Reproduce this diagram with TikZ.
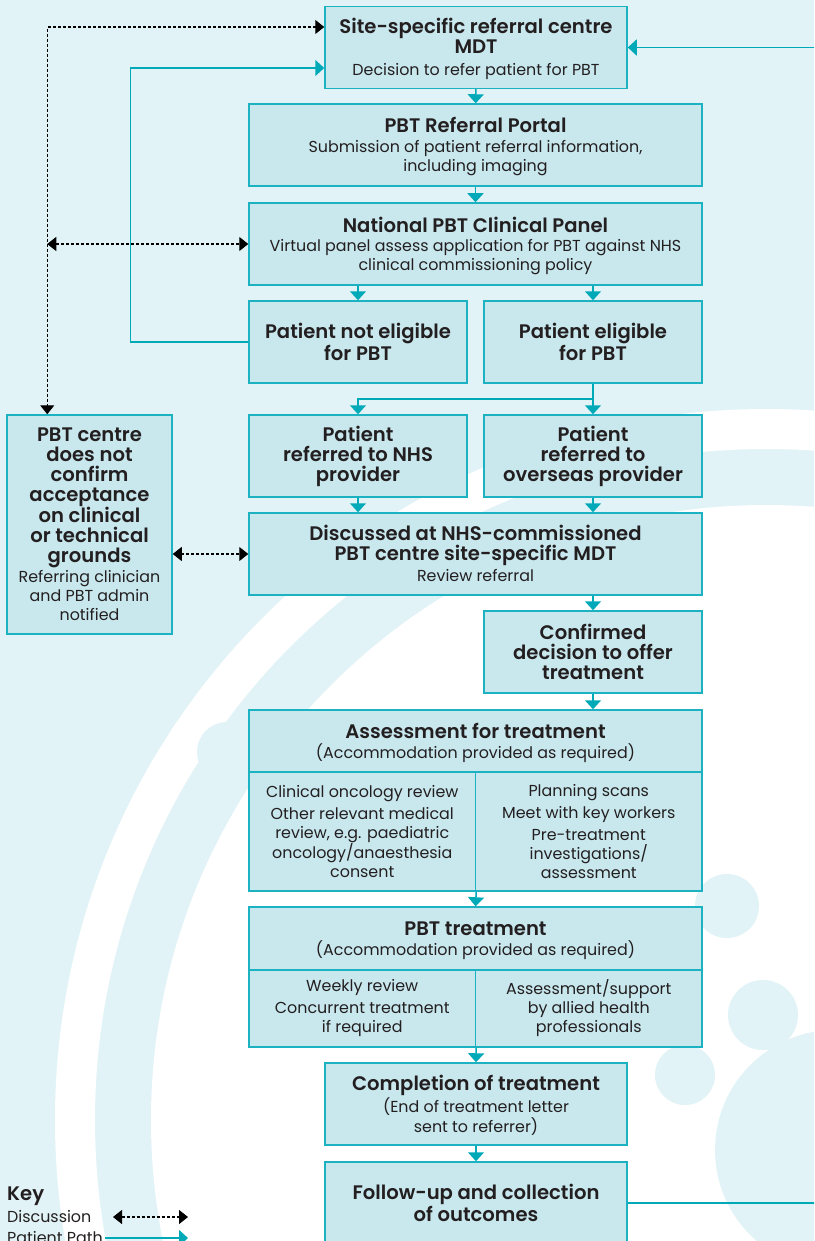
\documentclass[tikz,border=0pt]{standalone}
\usepackage{fontspec}
\IfFontExistsTF{Poppins SemiBold}{\setmainfont{Poppins}[BoldFont={Poppins SemiBold}]}{\setmainfont{Poppins}}
\usetikzlibrary{arrows.meta,calc}
\definecolor{bgpale}{HTML}{E1F3F6}
\definecolor{boxfill}{HTML}{C8E8EE}
\definecolor{tealline}{HTML}{1CB2C2}
\definecolor{tealarrow}{HTML}{00A9B8}
\definecolor{textdark}{HTML}{231F20}
\newcommand{\ttl}{\fontsize{19.6}{20}\selectfont\bfseries}
\newcommand{\sbt}{\fontsize{15.9}{19}\selectfont\mdseries}
\newcommand{\subtxt}[1]{{\sbt\raisebox{0pt}[\height][\dimexpr\depth-5pt\relax]{\begin{tabular}[t]{@{}c@{}}#1\end{tabular}}}}

\begin{document}
\begin{tikzpicture}[x=1pt, y=-1pt, text=textdark,
		box/.style={draw=tealline, fill=boxfill, line width=1.5pt, inner sep=0pt, align=center},
		tbox/.style={box, font=\ttl, execute at begin node={\rule{0pt}{23pt}}},
		widebox/.style={tbox, minimum width=453pt, minimum height=82pt},
		midbox/.style={tbox, minimum width=302pt, minimum height=82pt},
		halfbox/.style={tbox, minimum width=218pt, minimum height=82pt},
		colbox/.style={box, minimum width=226.5pt, font=\sbt},
		path/.style={draw=tealarrow, line width=1.5pt, -{Triangle[width=16pt,length=9pt]}},
		talk/.style={draw=black, line width=1.2pt, dash pattern=on 3pt off 2pt, {Triangle[width=14pt,length=9pt]}-{Triangle[width=14pt,length=9pt]}}]
		\useasboundingbox (0,0) rectangle (814,1241);
		\clip (0,0) rectangle (814,1241);
		\fill[bgpale] (0,0) rectangle (814,1241);
		\draw[white, line width=40pt] (766,1120) circle[radius=691pt];
		\fill[white] (766,1120) circle[radius=615pt];
		\fill[bgpale] (227,752) circle[radius=30pt];
		\fill[bgpale] (727,906) circle[radius=32pt];
		\fill[bgpale] (763,1015) circle[radius=35pt];
		\fill[bgpale] (685,1075) circle[radius=30pt];
		\fill[bgpale] (835,1150) circle[radius=120pt];
		\node[midbox] (mdt) at (476,47.5) {Site-specific referral centre\\MDT\\[2pt]\subtxt{Decision to refer patient for PBT}};
		\node[widebox] (portal) at (475.5,145) {PBT Referral Portal\\[0pt]\subtxt{Submission of patient referral information,\\including imaging}};
		\node[widebox] (panel) at (475.5,244) {National PBT Clinical Panel\\[-1pt]\subtxt{Virtual panel assess application for PBT against NHS\\clinical commissioning policy}};
		\node[halfbox] (noteligible) at (358,342) {Patient not eligible\\for PBT};
		\node[halfbox] (eligible) at (593,342) {Patient eligible\\for PBT};
		\node[halfbox] (nhs) at (358,456) {Patient\\referred to NHS\\provider};
		\node[halfbox] (overseas) at (593,456) {Patient\\referred to\\overseas provider};
		\node[widebox] (discussed) at (475.5,554) {Discussed at NHS-commissioned\\PBT centre site-specific MDT\\[1pt]\subtxt{Review referral}};
		\node[halfbox] (confirmed) at (593,652) {Confirmed\\decision to offer\\treatment};
		\node[tbox, minimum width=165pt, minimum height=219pt] (notconfirm) at (89.5,524.5) {PBT centre\\does not\\confirm\\acceptance\\on clinical\\or technical\\grounds\\[0pt]\subtxt{Referring clinician\\and PBT admin\\notified}};
		\node[widebox, minimum height=62pt] (assess) at (475.5,741) {Assessment for treatment\\[0pt]\subtxt{(Accommodation provided as required)}};
		\node[colbox, minimum height=119pt] (assessl) at (362.25,831.5) {Clinical oncology review\\[3pt]Other relevant medical\\review, e.g. paediatric\\oncology/anaesthesia\\consent};
		\node[colbox, minimum height=119pt] (assessr) at (588.75,831.5) {Planning scans\\[3pt]Meet with key workers\\[3pt]Pre-treatment\\investigations/\\assessment};
		\node[widebox, minimum height=63pt] (treat) at (475.5,938.5) {PBT treatment\\[0pt]\subtxt{(Accommodation provided as required)}};
		\node[colbox, minimum height=77pt] (treatl) at (362.25,1008.5) {Weekly review\\[3pt]Concurrent treatment\\if required};
		\node[colbox, minimum height=77pt] (treatr) at (588.75,1008.5) {Assessment/support\\by allied health\\professionals};
		\node[midbox] (completion) at (476,1104) {Completion of treatment\\[1pt]\subtxt{(End of treatment letter\\sent to referrer)}};
		\node[midbox] (followup) at (476,1203) {Follow-up and collection\\of outcomes};
		\draw[path] (mdt) -- (portal);
		\draw[path] (portal) -- (panel);
		\draw[path] (noteligible.north |- panel.south) -- (noteligible);
		\draw[path] (eligible.north |- panel.south) -- (eligible);
		\draw[path] (eligible.south) -- ++(0,15) -| (nhs.north);
		\draw[path] (eligible) -- (overseas);
		\draw[path] (nhs) -- (nhs.south |- discussed.north);
		\draw[path] (overseas) -- (overseas.south |- discussed.north);
		\draw[path] (confirmed.north |- discussed.south) -- (confirmed);
		\draw[path] (confirmed) -- (confirmed.south |- assess.north);
		\draw[path] (assessl.south east) -- (treat.north);
		\draw[path] (treatl.south east) -- (completion.north);
		\draw[path] (completion) -- (followup);
		\draw[path] (noteligible.west) -- ++(-118,0) |- ($(mdt.west)+(0,20.5)$);
		\draw[path] (followup.east) -- ++(250,0) |- (mdt.east);
		\coordinate (dline) at ($(notconfirm.north west)+(41,0)$);
		\draw[talk] ($(mdt.west)+(0,-20.5)$) -| (dline);
		\draw[talk] (dline |- panel.west) -- (panel.west);
		\draw[talk] (discussed.west -| notconfirm.east) -- (discussed.west);
		\node[anchor=west, inner sep=0pt, font=\ttl] (key) at (7,1196) {Key};
		\node[anchor=west, inner sep=0pt, font=\sbt] (keytalk) at (7,1217) {Discussion};
		\node[anchor=west, inner sep=0pt, font=\sbt] (keypath) at (7,1238) {Patient Path};
		\coordinate (keytalkend) at (188,1217);
		\coordinate (keypathend) at (188,1238);
		\draw[talk] (keytalkend -| 113,0) -- (keytalkend);
		\draw[path] (keypathend -| 105,0) -- (keypathend);
	\end{tikzpicture}
\end{document}
